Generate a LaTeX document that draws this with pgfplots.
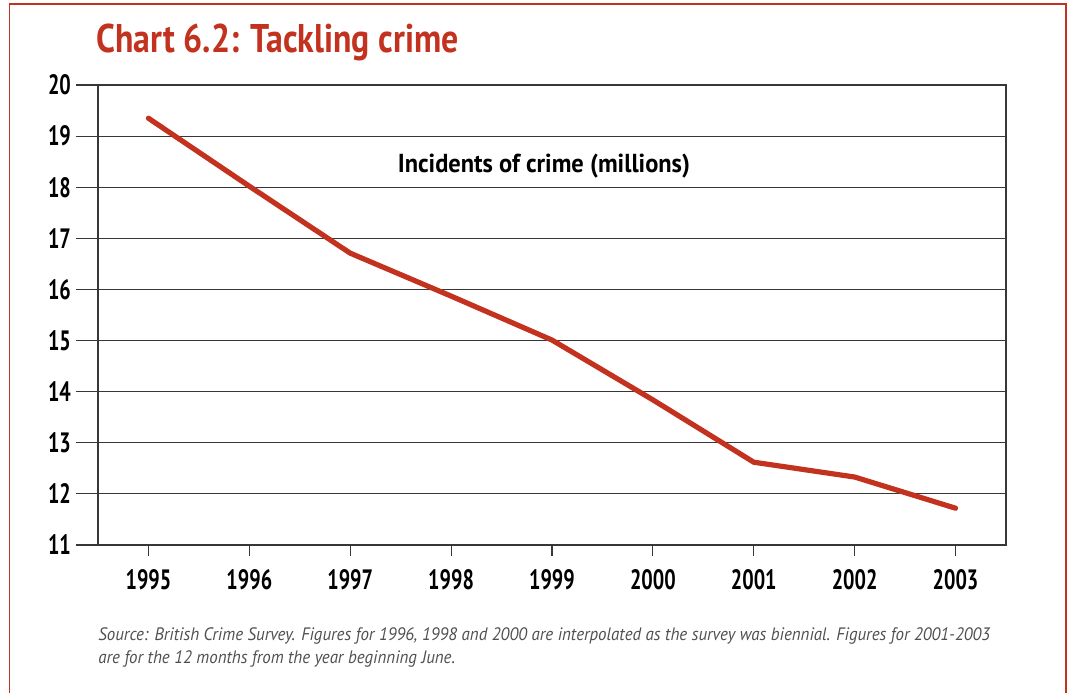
\documentclass[border=0pt]{standalone}
\usepackage{fontspec}
\setmainfont{PT Sans}
\usepackage{pgfplots}
\pgfplotsset{compat=1.18}
\definecolor{crimered}{RGB}{194,50,30}
\definecolor{gridc}{RGB}{55,55,55}
\definecolor{srcgray}{RGB}{80,80,80}
\begin{document}
\begin{tikzpicture}
\useasboundingbox (0,0) rectangle (533.5pt,-346pt);
\draw[crimered, line width=0.6pt] (4.6pt,-360pt) -- (4.6pt,-2pt) -- (533pt,-2pt) -- (533pt,-360pt);
\node[anchor=base west, text=crimered, font=\bfseries\fontsize{20}{22}\selectfont, inner sep=0pt, xscale=0.845] at (48pt,-26pt) {Chart 6.2: Tackling crime};
\begin{axis}[
  at={(49pt,-272.5pt)}, anchor=south west,
  scale only axis, width=454pt, height=230pt,
  xmin=-0.5, xmax=8.5, ymin=11, ymax=20,
  xtick=\empty,
  extra x ticks={0,...,8},
  extra x tick labels={1995,1996,1997,1998,1999,2000,2001,2002,2003},
  extra x tick style={major tick length=5.5pt},
  ytick={11,...,20},
  tick pos=left,
  tick align=outside,
  major tick length=11pt,
  tick style={gridc, line width=0.6pt},
  ymajorgrids, grid style={gridc, line width=0.5pt},
  axis line style={gridc, line width=0.7pt},
  /pgf/number format/assume math mode=true,
  ticklabel style={font=\bfseries\fontsize{14}{16}\selectfont, xscale=0.72},
  xticklabel style={yshift=-3pt},
  clip=false,
]
\addplot[crimered, line width=2.6pt, line cap=round, line join=round] coordinates {
 (0,19.35) (1,18.02) (2,16.71) (3,15.87) (4,15.01) (5,13.84) (6,12.62) (7,12.33) (8,11.72)
};
\node[font=\bfseries\fontsize{13}{15}\selectfont, xscale=0.94] at (axis cs:3.92,18.41) {Incidents of crime (millions)};
\end{axis}
\node[anchor=base west, text=srcgray, font=\itshape\fontsize{9}{10}\selectfont, inner sep=0pt, xscale=0.94] at (49pt,-320pt) {Source: British Crime Survey. Figures for 1996, 1998 and 2000 are interpolated as the survey was biennial. Figures for 2001-2003};
\node[anchor=base west, text=srcgray, font=\itshape\fontsize{9}{10}\selectfont, inner sep=0pt, xscale=0.94] at (49pt,-331.5pt) {are for the 12 months from the year beginning June.};
\end{tikzpicture}
\end{document}
